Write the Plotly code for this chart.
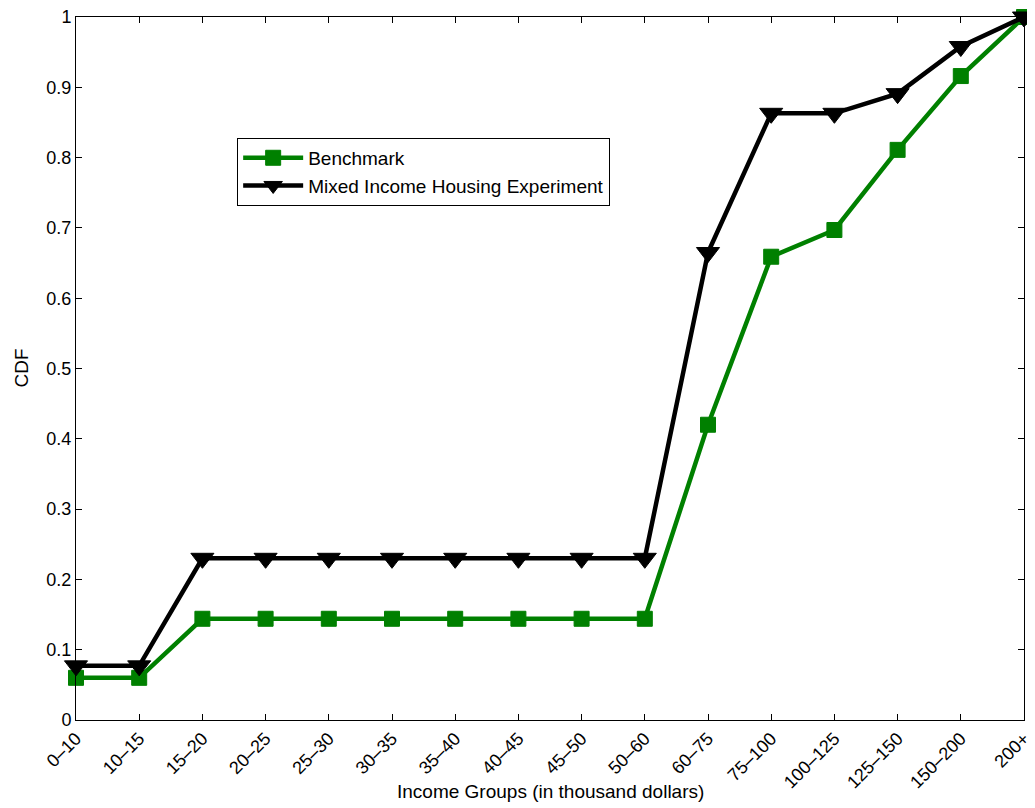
import plotly.graph_objects as go

categories = ["0\u201310", "10\u201315", "15\u201320", "20\u201325", "25\u201330", "30\u201335",
              "35\u201340", "40\u201345", "45\u201350", "50\u201360", "60\u201375", "75\u2013100",
              "100\u2013125", "125\u2013150", "150\u2013200", "200+"]
benchmark = [0.060, 0.060, 0.144, 0.144, 0.144, 0.144, 0.144, 0.144, 0.144, 0.144,
             0.420, 0.659, 0.697, 0.811, 0.916, 1.000]
mixed = [0.077, 0.077, 0.230, 0.230, 0.230, 0.230, 0.230, 0.230, 0.230, 0.230,
         0.665, 0.863, 0.863, 0.891, 0.958, 1.000]
y_ticks = [0, 0.1, 0.2, 0.3, 0.4, 0.5, 0.6, 0.7, 0.8, 0.9, 1]
y_labels = ["0", "0.1", "0.2", "0.3", "0.4", "0.5", "0.6", "0.7", "0.8", "0.9", "1"]

x_idx = list(range(len(categories)))
font = "Liberation Sans, Arial, Helvetica, sans-serif"

fig = go.Figure()
fig.add_trace(go.Scatter(
    x=x_idx, y=benchmark, name="Benchmark", mode="lines+markers",
    line=dict(color="#008000", width=4.5),
    marker=dict(symbol="square", size=15, color="#008000",
                line=dict(color="#008000", width=1)),
    cliponaxis=False,
))
fig.add_trace(go.Scatter(
    x=x_idx, y=mixed, name="Mixed Income Housing Experiment", mode="lines+markers",
    line=dict(color="black", width=4.5),
    marker=dict(symbol="triangle-down", size=20, color="black",
                line=dict(color="black", width=1)),
    cliponaxis=False,
))

fig.update_layout(
    width=1027, height=800,
    margin=dict(l=68, r=11, t=9, b=88, autoexpand=False),
    paper_bgcolor="white", plot_bgcolor="white",
    font=dict(family=font, size=19, color="black"),
    showlegend=True,
    legend=dict(x=0.17, y=0.828, xanchor="left", yanchor="top",
                bordercolor="black", borderwidth=1, bgcolor="white",
                font=dict(size=19, family=font), tracegroupgap=0,
                itemwidth=60),
    xaxis=dict(
        range=[0, len(categories) - 1], automargin=False,
        tickmode="array", tickvals=x_idx, ticktext=categories,
        tickangle=-45, ticks="inside", ticklen=6, tickcolor="black",
        showline=True, linecolor="black", linewidth=1, mirror="ticks",
        showgrid=False, zeroline=False, ticklabeloverflow="allow",
        tickfont=dict(size=18, family=font),
    ),
    yaxis=dict(
        range=[0, 1], automargin=False,
        tickmode="array", tickvals=y_ticks, ticktext=y_labels,
        ticks="inside", ticklen=6, tickcolor="black",
        showline=True, linecolor="black", linewidth=1, mirror="ticks",
        showgrid=False, zeroline=False, ticklabeloverflow="allow",
        tickfont=dict(size=18, family=font),
    ),
    annotations=[
        dict(text="Income Groups (in thousand dollars)", xref="paper", yref="paper",
             x=0.5, y=-0.1024, xanchor="center", yanchor="middle", showarrow=False,
             font=dict(size=19, family=font)),
        dict(text="CDF", xref="paper", yref="paper", textangle=-90,
             x=-0.058, y=0.5, xanchor="center", yanchor="middle", showarrow=False,
             font=dict(size=19, family=font)),
    ],
)

fig.write_html("out.html")
